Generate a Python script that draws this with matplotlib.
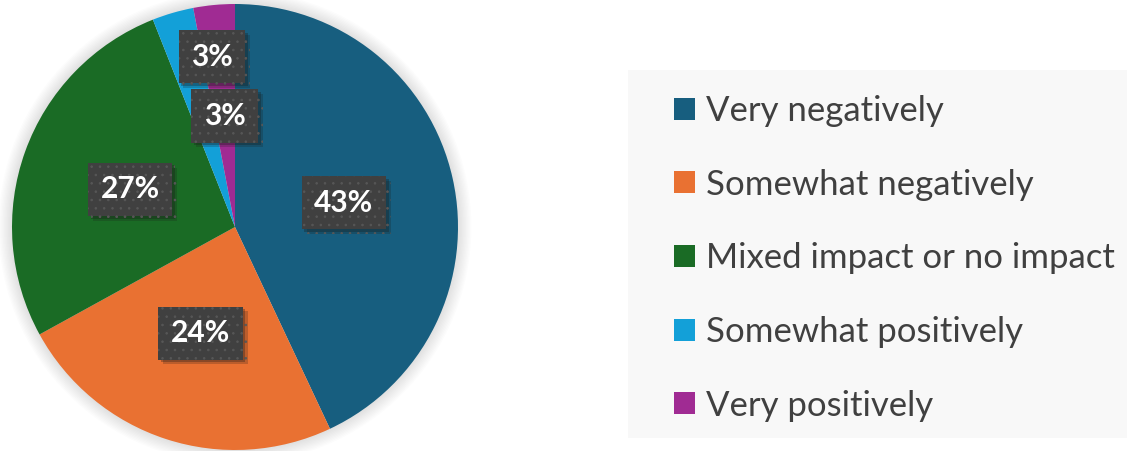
import numpy as np
import matplotlib
matplotlib.use('Agg')
from matplotlib import pyplot as plt
from matplotlib import patheffects
from matplotlib.patches import Circle, Rectangle

plt.rcParams['font.family'] = ['Lato', 'DejaVu Sans']
plt.rcParams['hatch.linewidth'] = 0.6

# answer categories and shares (%)
labels = ['Very negatively', 'Somewhat negatively', 'Mixed impact or no impact',
          'Somewhat positively', 'Very positively']
shares = [43, 24, 27, 3, 3]
colors = ['#175e7f', '#e97132', '#1a6b25', '#13a0d8', '#a02b93']

# where each value label sits: fraction of radius, extra turn in degrees
lab_r = [0.50, 0.50, 0.50, 0.77, 0.50]
lab_turn = [0, 0, 0, -8.5, 0]

W, H = 1127, 451
fig = plt.figure(figsize=(W / 100, H / 100), dpi=100)
fig.patch.set_facecolor('white')

cx, cy, R = 235, 227, 223
ax = fig.add_axes([(cx - R) / W, (H - cy - R) / H, 2 * R / W, 2 * R / H])

# soft halo round the pie
for k in range(10):
    ax.add_patch(Circle((0, 0), 1.0 + 0.006 * (k + 1), color='#808080',
                        alpha=0.025, lw=0, clip_on=False, zorder=0))

wedges, _ = ax.pie(shares, colors=colors, startangle=90, counterclock=False,
                   radius=1, wedgeprops=dict(linewidth=0))
for w in wedges:
    w.set_zorder(1)
ax.set_xlim(-1, 1)
ax.set_ylim(-1, 1)
ax.axis('off')

for w, v, r, t in zip(wedges, shares, lab_r, lab_turn):
    mid = np.deg2rad((w.theta1 + w.theta2) / 2 + t)
    txt = ax.text(r * np.cos(mid), r * np.sin(mid), f'{v}%', ha='center', va='center',
                  fontsize=21.5, fontweight='bold', color='white', zorder=5,
                  bbox=dict(boxstyle='square,pad=0.42', fc='#404040', ec='#575757',
                            lw=0, hatch='..'))
    txt.get_bbox_patch().set_path_effects([
        patheffects.SimplePatchShadow(offset=(3.5, -3.5), shadow_rgbFace='#1a1a1a', alpha=0.22),
        patheffects.SimplePatchShadow(offset=(2, -2), shadow_rgbFace='#1a1a1a', alpha=0.3),
        patheffects.Normal()])

# legend panel
fig.patches.append(Rectangle((628 / W, (H - 438) / H), (W - 628) / W, (438 - 70) / H,
                             transform=fig.transFigure, fc='#f8f8f8', ec='none', zorder=0))
leg = fig.legend(wedges, labels, loc='upper left', bbox_to_anchor=(674 / W, 1 - 95 / H),
                 frameon=False, fontsize=25, labelcolor='#404040',
                 handlelength=0.6, handleheight=0.6, handletextpad=0.32,
                 labelspacing=1.2, borderpad=0, borderaxespad=0)

fig.savefig('out.png', dpi=100)
